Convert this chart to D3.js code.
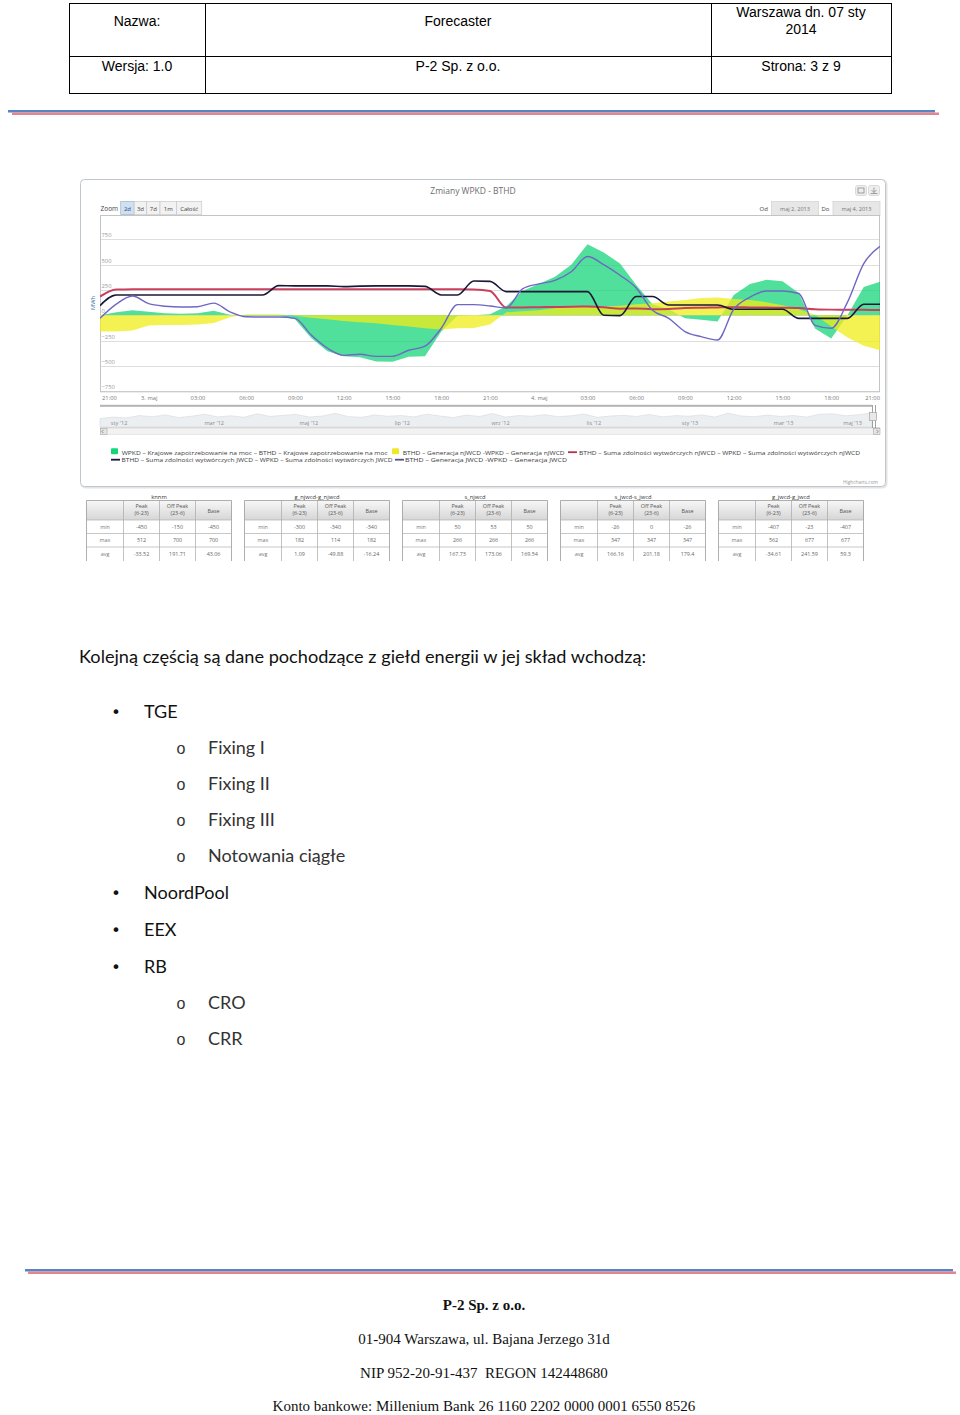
<!DOCTYPE html>
<html><head><meta charset="utf-8">
<script src="https://cdn.jsdelivr.net/npm/d3@7"></script>
<style>body{margin:0;background:#fff} svg{display:block}</style>
</head><body>
<svg id="page" width="960" height="1415"></svg>
<script>
// ================= DATA =================
const headerRow1 = ["Nazwa:", "Forecaster", ["Warszawa dn. 07 sty", "2014"]];
const headerRow2 = ["Wersja: 1.0", "P-2 Sp. z o.o.", "Strona: 3 z 9"];

const chartTitle = "Zmiany WPKD - BTHD";
const zoomButtons = ["2d", "3d", "7d", "1m", "Całość"];
const dateFrom = "maj 2, 2013";
const dateTo = "maj 4, 2013";

// hours since 2 May 2013 21:00
const hourOffsets = [0,1,2,3,4,5,6,7,8,9,10,11,12,13,14,15,16,17,18,19,20,21,22,23,24,
  25,26,27,28,29,30,31,32,33,34,35,36,37,38,39,40,41,42,43,44,45,46,47,48];

// WPKD - BTHD Krajowe zapotrzebowanie na moc (green area)
const greenDemandDiff = [0,30,50,35,20,15,20,45,5,-5,-5,-5,-40,-225,-355,-405,-415,-455,-458,-410,-405,-160,-5,0,
  10,90,240,310,380,500,700,620,510,300,110,60,-30,-45,-60,200,310,350,335,220,-130,-230,0,280,330];
// BTHD - WPKD Generacja nJWCD (yellow area)
const yellowGenNjwcdDiff = [-160,-160,-150,-100,-96,-95,-92,-75,-20,10,10,10,-5,-23,-40,-56,-68,-79,-95,-110,-128,-140,-128,-125,
  -90,30,40,50,70,95,90,86,95,110,118,135,150,170,175,160,150,130,100,60,5,-110,-220,-300,-345];
// BTHD - WPKD Suma zdolności wytwórczych nJWCD (red line)
const redCapNjwcdDiff = [185,255,256,257,257,257,257,257,257,257,257,257,257,257,257,257,257,257,257,257,257,257,257,255,
  240,76,78,80,82,85,86,80,65,68,60,62,72,75,78,80,78,76,75,72,60,56,55,54,52];
// BTHD - WPKD Suma zdolności wytwórczych JWCD (navy line)
const navyCapJwcdDiff = [96,201,201,201,201,201,201,201,201,201,201,293,290,290,290,283,288,290,290,290,285,201,201,339,
  335,234,234,234,234,234,234,0,-3,185,185,102,102,102,102,59,59,59,59,-30,-30,-30,-30,109,109];
// BTHD - WPKD Generacja JWCD (purple line)
const purpleGenJwcdDiff = [-30,110,190,115,90,82,85,120,33,-15,-17,-17,-30,-195,-325,-395,-385,-405,-405,-345,-305,-128,105,105,
  92,72,260,310,345,430,580,500,395,270,50,-30,-161,-211,-244,60,180,240,240,215,-100,-128,130,510,680];

const yTicks = [-750,-500,-250,0,250,500,750];
const xTickLabels = ["21:00","3. maj","03:00","06:00","09:00","12:00","15:00","18:00","21:00",
  "4. maj","03:00","06:00","09:00","12:00","15:00","18:00","21:00"];
const yAxisTitle = "MWh";

const navTickLabels = ["sty '12","mar '12","maj '12","lip '12","wrz '12","lis '12","sty '13","mar '13","maj '13"];
const navTickDates = ["2012-01-01","2012-03-01","2012-05-01","2012-07-01","2012-09-01","2012-11-01","2013-01-01","2013-03-01","2013-05-01"];
const navSeries = [38,45,41,52,47,55,43,49,58,46,51,44,60,48,53,57,45,50,62,47,44,55,49,52,46,58,50,43,54,48,
  61,45,52,49,56,47,51,59,44,50,53,48,57,46,52,49,55,45,63,50,47,54,48,52,45,58,60,51,56,64];

const legendNames = [
  "WPKD – Krajowe zapotrzebowanie na moc – BTHD – Krajowe zapotrzebowanie na moc",
  "BTHD – Generacja nJWCD -WPKD – Generacja nJWCD",
  "BTHD – Suma zdolności wytwórczych nJWCD – WPKD – Suma zdolności wytwórczych nJWCD",
  "BTHD – Suma zdolności wytwórczych JWCD – WPKD – Suma zdolności wytwórczych JWCD",
  "BTHD – Generacja JWCD -WPKD – Generacja JWCD"];

const tableTitles = ["knnm","g_njwcd-g_njwcd","s_njwcd","s_jwcd-s_jwcd","g_jwcd-g_jwcd"];
const tableHeaders = [["Peak","(6-23)"],["Off Peak","(23-6)"],["Base"]];
const rowLabels = ["min","max","avg"];
const tableMin = [[-450,-150,-450],[-300,-340,-340],[50,53,50],[-26,0,-26],[-407,-23,-407]];
const tableMax = [[512,700,700],[182,114,182],[266,266,266],[347,347,347],[562,677,677]];
const tableAvg = [[-33.52,191.71,43.06],[1.09,-49.88,-16.24],[167.73,173.06,169.54],[166.16,201.18,179.4],[-34.61,241.59,59.3]];

const introText = "Kolejną częścią są dane pochodzące z giełd energii w jej skład wchodzą:";
const listItems = [
  {level:0, text:"TGE"},{level:1, text:"Fixing I"},{level:1, text:"Fixing II"},{level:1, text:"Fixing III"},
  {level:1, text:"Notowania ciągłe"},{level:0, text:"NoordPool"},{level:0, text:"EEX"},{level:0, text:"RB"},
  {level:1, text:"CRO"},{level:1, text:"CRR"}];

const footerLines = ["P-2 Sp. z o.o.","01-904 Warszawa, ul. Bajana Jerzego 31d","NIP 952-20-91-437  REGON 142448680",
  "Konto bankowe: Millenium Bank 26 1160 2202 0000 0001 6550 8526"];

// ================= DRAW =================
const svg = d3.select("#page");
svg.append("rect").attr("width",960).attr("height",1415).attr("fill","#fff");
const defs = svg.append("defs");

// ---- header table ----
const HF = "'Liberation Sans', Arial, sans-serif";
const hg = svg.append("g").attr("stroke","#000").attr("stroke-width",1);
hg.append("rect").attr("x",69.5).attr("y",3.5).attr("width",822).attr("height",90).attr("fill","none");
hg.append("line").attr("x1",69.5).attr("x2",891.5).attr("y1",56.5).attr("y2",56.5);
[205.5,711.5].forEach(v=>hg.append("line").attr("x1",v).attr("x2",v).attr("y1",3.5).attr("y2",93.5));
const colCenters = [137,458,801];
headerRow1.forEach((t,i)=>{
  const lines = Array.isArray(t)?t:[t];
  lines.forEach((l,j)=>{
    svg.append("text").attr("x",colCenters[i]).attr("y",lines.length>1?17+j*17:26)
      .attr("text-anchor","middle").attr("font-family",HF).attr("font-size",14).attr("fill","#000").text(l);
  });
});
headerRow2.forEach((t,i)=>svg.append("text").attr("x",colCenters[i]).attr("y",71).attr("text-anchor","middle")
  .attr("font-family",HF).attr("font-size",14).attr("fill","#000").text(t));

// separator double lines
function sepLines(yb, x1, x2, off){
  svg.append("line").attr("x1",x1).attr("x2",x2).attr("y1",yb).attr("y2",yb).attr("stroke","#5585c5").attr("stroke-width",2.4);
  svg.append("line").attr("x1",x1+off).attr("x2",x2+off).attr("y1",yb+2.6).attr("y2",yb+2.6).attr("stroke","#e4848f").attr("stroke-width",2.4);
}
sepLines(111.2, 8, 935, 4);
sepLines(1270.2, 25, 953, 3);

// ---- chart frame ----
const CF = "'Open Sans', 'DejaVu Sans', sans-serif";
svg.append("rect").attr("x",81.5).attr("y",180.5).attr("width",805).attr("height",307).attr("rx",4)
  .attr("fill","none").attr("stroke","#e4e4e4").attr("stroke-width",2);
svg.append("rect").attr("x",80.5).attr("y",179.5).attr("width",805).attr("height",307).attr("rx",4)
  .attr("fill","#fff").attr("stroke","#bfc6cd");
svg.append("text").attr("x",473).attr("y",194).attr("text-anchor","middle").attr("font-family",CF)
  .attr("font-size",8.5).attr("fill","#6d6d6d").text(chartTitle);

// export icons
[855,868].forEach((bx,i)=>{
  svg.append("rect").attr("x",bx+0.5).attr("y",185.5).attr("width",11).attr("height",10).attr("rx",2)
    .attr("fill","#eeeeee").attr("stroke","#c8c8c8").attr("stroke-width",0.6);
  if(i===0){
    svg.append("rect").attr("x",bx+3).attr("y",188).attr("width",6).attr("height",5).attr("fill","none").attr("stroke","#8a8a8a").attr("stroke-width",0.8);
  } else {
    svg.append("path").attr("d",`M${bx+6},187.5 v5 m-2.5,-2.5 l2.5,2.5 l2.5,-2.5 M${bx+2.5},193.5 h7`)
      .attr("fill","none").attr("stroke","#8a8a8a").attr("stroke-width",0.8);
  }
});

// zoom buttons
svg.append("text").attr("x",100.5).attr("y",210.5).attr("font-family",CF).attr("font-size",6.5).attr("fill","#444").text("Zoom");
const btnW = [13.5,12.5,13.3,16.7,25];
let bx = 120.7;
zoomButtons.forEach((b,i)=>{
  svg.append("rect").attr("x",bx).attr("y",201.5).attr("width",btnW[i]).attr("height",13)
    .attr("fill",i===0?"#cfe0f3":"#f2f2f2").attr("stroke",i===0?"#9db4cf":"#c9c9c9").attr("stroke-width",0.7);
  svg.append("text").attr("x",bx+btnW[i]/2).attr("y",210.5).attr("text-anchor","middle").attr("font-family",CF)
    .attr("font-size",6).attr("fill",i===0?"#2a4a7a":"#444").text(b);
  bx += btnW[i];
});
// date inputs
svg.append("text").attr("x",759.5).attr("y",210.5).attr("font-family",CF).attr("font-size",6).attr("fill","#444").text("Od");
svg.append("text").attr("x",821.5).attr("y",210.5).attr("font-family",CF).attr("font-size",6).attr("fill","#444").text("Do");
[[771.5,dateFrom],[833,dateTo]].forEach(([dx,t])=>{
  svg.append("rect").attr("x",dx).attr("y",201.5).attr("width",47).attr("height",14).attr("fill","#e7e7e7")
    .attr("stroke","#d0d0d0").attr("stroke-width",0.7);
  svg.append("text").attr("x",dx+23.5).attr("y",210.8).attr("text-anchor","middle").attr("font-family",CF)
    .attr("font-size",5.6).attr("fill","#777").text(t);
});

// ---- plot ----
const t0 = new Date(2013,4,2,21,0);
const toDate = h => new Date(t0.getTime()+h*3600e3);
const plotL = 100, plotR = 880, plotT = 215, plotB = 391.3;
const x = d3.scaleTime().domain([toDate(0), toDate(48)]).range([plotL, plotR]);
const y = d3.scaleLinear().domain([-750, 750]).range([plotB, 239.3]);

defs.append("clipPath").attr("id","plotclip").append("rect").attr("x",plotL).attr("y",plotT)
  .attr("width",plotR-plotL).attr("height",plotB-plotT);

const grid = svg.append("g");
yTicks.forEach(v=>{
  grid.append("line").attr("x1",plotL).attr("x2",plotR).attr("y1",Math.round(y(v))+0.5).attr("y2",Math.round(y(v))+0.5)
    .attr("stroke","#dedede").attr("stroke-width",1);
});
svg.append("rect").attr("x",plotL+0.5).attr("y",plotT+0.5).attr("width",plotR-plotL-1).attr("height",plotB-plotT)
  .attr("fill","none").attr("stroke","#c4c4c4").attr("stroke-width",1);

const pts = hourOffsets.map((h,i)=>({t:toDate(h), i}));
const pg = svg.append("g").attr("clip-path","url(#plotclip)");
function areaFor(arr){
  return d3.area().x(d=>x(d.t)).y0(y(0)).y1(d=>y(arr[d.i])).curve(d3.curveLinear)(pts);
}
function lineFor(arr){
  return d3.line().x(d=>x(d.t)).y(d=>y(arr[d.i])).curve(d3.curveMonotoneX)(pts);
}
pg.append("path").attr("d",areaFor(greenDemandDiff)).attr("fill","#16d67a").attr("fill-opacity",0.75);
pg.append("path").attr("d",areaFor(yellowGenNjwcdDiff)).attr("fill","#f0ec1a").attr("fill-opacity",0.75);
pg.append("path").attr("d",lineFor(redCapNjwcdDiff)).attr("fill","none").attr("stroke","#c9405e").attr("stroke-width",2);
pg.append("path").attr("d",lineFor(navyCapJwcdDiff)).attr("fill","none").attr("stroke","#1a1838").attr("stroke-width",1.6);
pg.append("path").attr("d",lineFor(purpleGenJwcdDiff)).attr("fill","none").attr("stroke","#6e68c4").attr("stroke-width",1.4);

// y labels
yTicks.forEach(v=>{
  svg.append("text").attr("x",101.5).attr("y",y(v)-2).attr("font-family",CF).attr("font-size",5.8)
    .attr("fill","#9a9a9a").text(v===0?"0":String(v).replace("-","−"));
});
svg.append("text").attr("transform","translate(95,303) rotate(-90)").attr("text-anchor","middle")
  .attr("font-family",CF).attr("font-size",5.8).attr("fill","#4d759e").text(yAxisTitle);

// x axis labels
const xTickVals = xTickLabels.map((_,i)=>toDate(i*3));
const xAxis = d3.axisBottom(x).tickValues(xTickVals).tickSize(0).tickFormat((d,i)=>xTickLabels[i]);
const xg = svg.append("g").attr("transform",`translate(0,${plotB})`).call(xAxis);
xg.select(".domain").remove();
xg.selectAll("text").attr("font-family",CF).attr("font-size",5.8).attr("fill","#777").attr("dy",0).attr("y",8.5);
xg.selectAll(".tick").filter((d,i)=>i===0).select("text").attr("text-anchor","start").attr("dx",1.5);
xg.selectAll(".tick").filter((d,i)=>i===xTickLabels.length-1).select("text").attr("text-anchor","end").attr("dx",-0.5);

// ---- navigator ----
const navX = d3.scaleTime().domain([new Date(2011,11,27), toDate(48)]).range([plotL, 872]);
const navIdx = d3.scalePoint().domain(navSeries.map((_,i)=>i)).range([plotL, 872]);
const navY = d3.scaleLinear().domain([0,100]).range([427,405]);
svg.append("path").attr("d", d3.area().x((d,i)=>navIdx(i)).y0(427).y1(d=>navY(d)).curve(d3.curveLinear)(navSeries))
  .attr("fill","#eceff2").attr("stroke","#d4d9de").attr("stroke-width",0.6);
svg.append("rect").attr("x",plotL).attr("y",404.8).attr("width",772).attr("height",2).attr("fill","#b4b4b4");
svg.append("line").attr("x1",plotL).attr("x2",plotR).attr("y1",427.5).attr("y2",427.5).attr("stroke","#d8d8d8");
navTickDates.forEach((ds,i)=>{
  const p = ds.split("-").map(Number);
  let tx = navX(new Date(p[0],p[1]-1,p[2]))+3;
  const anchor = i===navTickDates.length-1 ? "end" : "start";
  if(anchor==="end") tx = 862;
  svg.append("text").attr("x",tx).attr("y",425).attr("text-anchor",anchor).attr("font-family",CF)
    .attr("font-size",5.6).attr("fill","#8a8a8a").text(navTickLabels[i]);
});
// handles
svg.append("line").attr("x1",872.5).attr("x2",872.5).attr("y1",405).attr("y2",428).attr("stroke","#8a8a8a").attr("stroke-width",0.8);
svg.append("line").attr("x1",875.5).attr("x2",875.5).attr("y1",405).attr("y2",428).attr("stroke","#8a8a8a").attr("stroke-width",0.8);
svg.append("rect").attr("x",869.5).attr("y",412.5).attr("width",7).attr("height",8).attr("fill","#ebe7e8").attr("stroke","#999").attr("stroke-width",0.6);
// scrollbar
svg.append("rect").attr("x",plotL+0.5).attr("y",428.5).attr("width",779).attr("height",6).attr("fill","#f2f2f2").attr("stroke","#dcdcdc").attr("stroke-width",0.6);
[[plotL+0.5,"M103.5,429.8 l-1.6,1.7 l1.6,1.7"],[873.5,"M876.5,429.8 l1.6,1.7 l-1.6,1.7"]].forEach(([sx,d])=>{
  svg.append("rect").attr("x",sx).attr("y",428.5).attr("width",6.5).attr("height",6).attr("fill","#e6e6e6").attr("stroke","#a8a8a8").attr("stroke-width",0.6);
  svg.append("path").attr("d",d).attr("fill","none").attr("stroke","#555").attr("stroke-width",0.6);
});

// ---- legend ----
const LG = svg.append("g").attr("font-family",CF).attr("font-size",5.8).attr("fill","#3c3c3c");
const legendItems = [
  {sym:"rect", color:"#16d67a", sx:111, tx:121.7, ty:454.5, w:266, name:legendNames[0]},
  {sym:"rect", color:"#efe92a", sx:392, tx:402.7, ty:454.5, w:162, name:legendNames[1]},
  {sym:"line", color:"#b0344e", sx:568, tx:579, ty:454.5, w:281, name:legendNames[2]},
  {sym:"line", color:"#1a1838", sx:111, tx:121.5, ty:462, w:271, name:legendNames[3]},
  {sym:"line", color:"#55508a", sx:395, tx:405, ty:462, w:162, name:legendNames[4]}];
legendItems.forEach(it=>{
  if(it.sym==="rect") LG.append("rect").attr("x",it.sx).attr("y",it.ty-6.3).attr("width",7).attr("height",6).attr("rx",1).attr("fill",it.color);
  else LG.append("line").attr("x1",it.sx).attr("x2",it.sx+9).attr("y1",it.ty-2.3).attr("y2",it.ty-2.3).attr("stroke",it.color).attr("stroke-width",1.8);
  LG.append("text").attr("x",it.tx).attr("y",it.ty).attr("textLength",it.w).attr("lengthAdjust","spacingAndGlyphs").text(it.name);
});
svg.append("text").attr("x",878).attr("y",483.5).attr("text-anchor","end").attr("font-family",CF).attr("font-size",4.8)
  .attr("fill","#9a9a9a").text("Highcharts.com");

// ---- tables ----
const grad = defs.append("linearGradient").attr("id","thg").attr("x1",0).attr("x2",0).attr("y1",0).attr("y2",1);
grad.append("stop").attr("offset","0").attr("stop-color","#f7f7f7");
grad.append("stop").attr("offset","1").attr("stop-color","#d6d6d6");
defs.append("clipPath").attr("id","tclip").append("rect").attr("x",0).attr("y",480).attr("width",960).attr("height",81);
const TG = svg.append("g").attr("clip-path","url(#tclip)").attr("font-family",CF);
const tW = 145, colW = [37,36,36,36];
const rowY = [500.5, 520, 533.5, 547, 560.5];
const tableRows = [tableMin, tableMax, tableAvg];
tableTitles.forEach((title,ti)=>{
  const x0 = 86.5 + ti*158;
  TG.append("text").attr("x",x0+tW/2).attr("y",499).attr("text-anchor","middle").attr("font-size",5.8).attr("fill","#333").text(title);
  TG.append("rect").attr("x",x0).attr("y",rowY[0]).attr("width",tW).attr("height",rowY[1]-rowY[0]).attr("fill","url(#thg)");
  const colX = [x0]; colW.forEach(w=>colX.push(colX[colX.length-1]+w));
  colX.forEach((cx,ci)=>{
    TG.append("line").attr("x1",cx).attr("x2",cx).attr("y1",rowY[0]).attr("y2",565)
      .attr("stroke",ci===0||ci===4?"#8c8c8c":"#a8a8a8").attr("stroke-width",0.7);
  });
  rowY.slice(0,4).forEach((ry,ri)=>{
    TG.append("line").attr("x1",x0).attr("x2",x0+tW).attr("y1",ry).attr("y2",ry)
      .attr("stroke",ri===0?"#8c8c8c":"#b0b0b0").attr("stroke-width",0.7);
  });
  tableHeaders.forEach((hl,hi)=>{
    const cx = colX[hi+1]+colW[hi+1]/2;
    hl.forEach((l,li)=>{
      TG.append("text").attr("x",cx).attr("y",hl.length>1?508+li*7:512.5).attr("text-anchor","middle")
        .attr("font-size",5.4).attr("fill","#555").text(l);
    });
  });
  rowLabels.forEach((rl,ri)=>{
    const cy = (rowY[ri+1]+rowY[ri+2])/2+2;
    TG.append("text").attr("x",x0+colW[0]/2).attr("y",cy).attr("text-anchor","middle").attr("font-size",5.4).attr("fill","#777").text(rl);
    tableRows[ri][ti].forEach((v,ci)=>{
      TG.append("text").attr("x",colX[ci+1]+colW[ci+1]/2).attr("y",cy).attr("text-anchor","middle")
        .attr("font-size",5.4).attr("fill","#666").text(String(v));
    });
  });
});

// ---- body text ----
const BF = "Lato, 'Open Sans', sans-serif";
svg.append("text").attr("x",79).attr("y",663).attr("font-family",BF).attr("font-size",18).attr("fill","#111")
  .attr("textLength",567).attr("lengthAdjust","spacingAndGlyphs").text(introText);
const itemY = [718,754,790,826,862,899,936,973,1009,1045];
listItems.forEach((it,i)=>{
  if(it.level===0){
    svg.append("text").attr("x",116).attr("y",itemY[i]).attr("text-anchor","middle").attr("font-family","'DejaVu Sans'")
      .attr("font-size",16).attr("fill","#111").text("•");
    svg.append("text").attr("x",144).attr("y",itemY[i]).attr("font-family",BF).attr("font-size",18).attr("fill","#111").text(it.text);
  } else {
    svg.append("text").attr("x",181).attr("y",itemY[i]).attr("text-anchor","middle").attr("font-family","'Liberation Sans'")
      .attr("font-size",16).attr("fill","#333").text("o");
    svg.append("text").attr("x",208).attr("y",itemY[i]).attr("font-family",BF).attr("font-size",18).attr("fill","#333").text(it.text);
  }
});

// ---- footer ----
const FF = "'Liberation Serif', 'DejaVu Serif', serif";
const footY = [1310,1344,1378,1411];
footerLines.forEach((l,i)=>{
  svg.append("text").attr("x",484).attr("y",footY[i]).attr("text-anchor","middle").attr("font-family",FF)
    .attr("font-size",15).attr("font-weight",i===0?"bold":"normal").attr("fill","#111")
    .attr("style","white-space:pre").text(l);
});
</script>
</body></html>
